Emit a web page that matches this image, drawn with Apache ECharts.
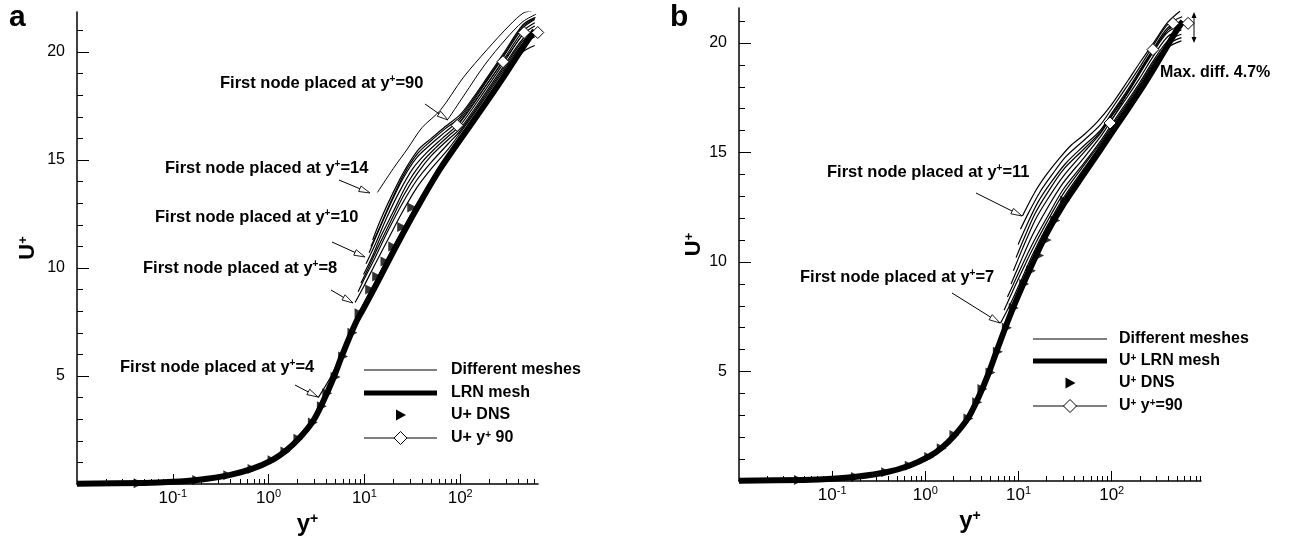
<!DOCTYPE html>
<html><head><meta charset="utf-8">
<script src="https://cdn.jsdelivr.net/npm/echarts@6/dist/echarts.min.js"></script>
<style>html,body{margin:0;padding:0;background:#fff}#c{width:1293px;height:542px}</style>
</head><body><div id="c"></div>
<script>
// ---------------- DATA ----------------
// DNS reference profile (shared by both panels): [y+, U+]
const dnsProfile = [[0.044,0.04],[0.18,0.18],[0.38,0.4],[0.68,0.7],[1.1,1.1],[1.5,1.5],[2.05,2.1],[2.9,2.85],[3.6,3.6],[4.1,4.2],[5.0,4.95],[6.0,5.9],[7.5,7.0],[8.9,7.9],[11.5,9.0],[13.6,9.6],[16.6,10.3],[20,11.0],[24.8,11.9],[31.6,12.8]];

// Panel a
const lrnA = [[0.01,0.01],[0.05,0.05],[0.1,0.1],[0.18,0.19],[0.38,0.4],[0.68,0.71],[1.1,1.12],[1.5,1.52],[2.05,2.08],[2.9,2.9],[3.74,3.85],[4.7,4.85],[5.9,6.0],[8,7.4],[10,8.2],[14.7,9.6],[22,11.1],[35.7,12.8],[60,14.5],[95,15.8],[190,17.7],[280,18.8],[450,20.2],[600,21.0]];
const meshA4  = [[3.3,4.0],[4.5,5.0],[6,6.2],[8,7.6],[10,8.4],[14.7,9.8],[22,11.3],[35.7,13.0],[60,14.65],[100,16.05],[190,17.8],[280,18.9],[450,20.0],[600,20.3]];
const meshA8  = [[8,8.4],[10,9.2],[13,10.2],[18,11.4],[25,12.6],[35,13.7],[50,14.6],[75,15.5],[100,16.25],[190,18.0],[280,19.1],[450,20.4],[600,20.7]];
const meshA8b = [[8.6,8.9],[10,9.5],[13,10.5],[18,11.8],[25,13.0],[35,14.05],[50,14.9],[75,15.75],[100,16.35],[190,18.1],[280,19.2],[450,20.5],[600,20.85]];
const meshA9  = [[9.2,9.3],[11,10.0],[14,11.0],[19,12.2],[26,13.4],[36,14.4],[50,15.2],[75,15.95],[100,16.45],[190,18.2],[280,19.3],[450,20.6],[600,21.0]];
const meshA9b = [[9.8,9.7],[12,10.5],[15,11.5],[20,12.6],[28,13.9],[40,14.9],[55,15.55],[75,16.1],[100,16.6],[190,18.35],[280,19.45],[450,20.8],[600,21.2]];
const meshA10 = [[10.4,10.2],[13,11.1],[17,12.3],[23,13.5],[32,14.6],[45,15.35],[65,16.0],[100,16.75],[190,18.5],[280,19.6],[450,20.95],[600,21.35]];
const meshA11 = [[11.2,10.7],[14,11.7],[18,12.8],[25,14.1],[35,15.1],[50,15.75],[70,16.3],[100,16.9],[190,18.65],[280,19.75],[450,21.1],[600,21.5]];
const meshA11b= [[11.7,11.0],[14.5,11.9],[19,13.1],[26,14.35],[36,15.3],[50,15.9],[70,16.45],[100,17.0],[190,18.72],[280,19.82],[450,21.17],[600,21.55]];
const meshA12 = [[12.2,11.3],[15,12.3],[20,13.5],[27,14.6],[37,15.5],[50,16.0],[70,16.55],[100,17.1],[140,17.95],[190,18.8],[280,19.9],[450,21.25],[610,21.6]];
const meshA14 = [[13.7,13.5],[20,14.6],[28,15.5],[40,16.5],[62,17.3],[107,18.8],[190,20.1],[330,21.25],[455,21.8],[560,21.9]];
const meshA90 = [[75,16.9],[110,18.0],[180,19.4],[300,20.6],[450,21.4],[620,21.75]];
const yp90A = [[93,16.6],[280,19.55],[465,20.9],[645,20.9]];

// Panel b
const lrnB = [[0.01,0.01],[0.05,0.05],[0.1,0.1],[0.18,0.19],[0.38,0.4],[0.68,0.71],[1.1,1.12],[1.5,1.52],[2.05,2.08],[2.9,2.9],[3.7,3.8],[4.7,4.85],[5.9,6.0],[8,7.5],[10,8.5],[14.7,10.1],[20,11.3],[30,12.6],[50,14.0],[75,15.1],[100,15.9],[150,17.0],[200,17.8],[280,18.8],[400,19.9],[500,20.6],[580,21.0]];
const meshB7  = [[6.4,7.2],[8,8.0],[10,8.9],[14,10.3],[20,11.6],[30,12.9],[50,14.25],[75,15.3],[100,16.1],[150,17.2],[200,18.0],[280,19.0],[400,19.8],[560,20.1]];
const meshB7b = [[7.0,7.8],[8.5,8.6],[10,9.25],[14,10.55],[20,11.8],[30,13.1],[50,14.4],[75,15.4],[100,16.2],[150,17.3],[200,18.1],[280,19.1],[400,19.95],[560,20.25]];
const meshB8  = [[7.6,8.4],[10,9.5],[14,10.8],[20,12.0],[30,13.3],[50,14.5],[75,15.5],[100,16.3],[150,17.4],[200,18.2],[280,19.2],[400,20.1],[560,20.4]];
const meshB8b = [[8.3,9.0],[10,9.8],[14,11.2],[20,12.4],[30,13.6],[50,14.75],[75,15.7],[100,16.5],[150,17.6],[200,18.4],[280,19.4],[400,20.3],[560,20.6]];
const meshB9  = [[8.8,9.6],[11,10.6],[15,11.9],[20,12.8],[30,13.9],[50,15.0],[75,15.85],[100,16.65],[150,17.75],[200,18.6],[280,19.6],[400,20.5],[560,20.8]];
const meshB9b = [[9.4,10.2],[11.5,11.1],[15,12.2],[20,13.1],[30,14.2],[50,15.15],[75,15.92],[100,16.72],[150,17.82],[200,18.68],[280,19.68],[400,20.6],[565,20.9]];
const meshB10 = [[9.9,10.8],[12,11.6],[16,12.7],[22,13.6],[32,14.5],[50,15.3],[75,16.0],[100,16.8],[150,17.9],[200,18.75],[280,19.75],[400,20.7],[570,21.0]];
const meshB10b= [[10.5,11.5],[13,12.3],[17,13.2],[23,14.0],[32,14.8],[50,15.55],[75,16.25],[100,17.0],[150,18.1],[200,18.9],[280,19.9],[400,20.85],[570,21.2]];
const meshB11 = [[11,12.1],[15,13.2],[20,14.0],[27,14.7],[36,15.3],[50,15.8],[70,16.4],[100,17.2],[150,18.3],[200,19.1],[280,20.0],[400,20.95],[540,21.45]];
const yp90B = [[96,16.35],[277,19.7],[455,20.9],[660,20.9]];

// Axis ticks
const xMajorTicks = [0.1, 1, 10, 100];
const xMinorTicksA = [0.02,0.03,0.04,0.05,0.06,0.07,0.08,0.09,0.2,0.3,0.4,0.5,0.6,0.7,0.8,0.9,2,3,4,5,6,7,8,9,20,30,40,50,60,70,80,90,200,300,400,500,600];
const xMinorTicksB = [0.02,0.03,0.04,0.05,0.06,0.07,0.08,0.09,0.2,0.3,0.4,0.5,0.6,0.7,0.8,0.9,2,3,4,5,6,7,8,9,20,30,40,50,60,70,80,90,200,300,400,500,600,700,800,900];
const yMajorTicks = [5, 10, 15, 20];
const yMinorTicks = [1,2,3,4,6,7,8,9,11,12,13,14,16,17,18,19,21];

// ---------------- LAYOUT / STYLE ----------------
const FONT = '"Liberation Sans", Arial, Helvetica, sans-serif';
const chart = echarts.init(document.getElementById('c'), null, {renderer: 'canvas'});

function powLabel(v) {
  const l = Math.log10(v), e = Math.round(l);
  if (Math.abs(l - e) > 1e-6 || e < -1) return '';
  return '{m|10}{s|' + e + '}';
}
function xAxes(grid, max, minor) {
  return [
    {gridIndex: grid, type: 'log', logBase: 10, min: 0.01, max: max, position: 'bottom',
     axisLine: {lineStyle: {color: '#000', width: 1.5}},
     axisTick: {inside: true, length: 10, customValues: xMajorTicks, lineStyle: {color: '#000', width: 1}},
     axisLabel: {customValues: xMajorTicks, formatter: powLabel, margin: 4, color: '#000', fontSize: 17, fontFamily: FONT,
                 rich: {m: {fontSize: 17, lineHeight: 21, fontFamily: FONT, color: '#000'},
                        s: {fontSize: 11, lineHeight: 15, fontFamily: FONT, color: '#000', verticalAlign: 'top'}}},
     splitLine: {show: false},
     name: 'y{s|+}', nameLocation: 'middle', nameGap: 21,
     nameTextStyle: {fontSize: 24, fontWeight: 'bold', fontFamily: FONT, color: '#000',
                     rich: {s: {fontSize: 14, fontWeight: 'bold', fontFamily: FONT, color: '#000', verticalAlign: 'top'}}}},
    {gridIndex: grid, type: 'log', logBase: 10, min: 0.01, max: max, position: 'bottom',
     axisLine: {show: false}, axisLabel: {show: false}, splitLine: {show: false},
     axisTick: {inside: true, length: 5, customValues: minor, lineStyle: {color: '#000', width: 1}}}
  ];
}
function yAxes(grid, max, gap) {
  return [
    {gridIndex: grid, type: 'value', min: 0, max: max, position: 'left',
     axisLine: {show: true, lineStyle: {color: '#000', width: 1.5}},
     axisTick: {show: true, inside: true, length: 12, customValues: yMajorTicks, lineStyle: {color: '#000', width: 1}},
     axisLabel: {customValues: yMajorTicks, margin: 12, color: '#000', fontSize: 16, fontFamily: FONT},
     splitLine: {show: false},
     name: 'U{s|+}', nameLocation: 'middle', nameRotate: 90, nameGap: gap,
     nameTextStyle: {fontSize: 22, fontWeight: 'bold', fontFamily: FONT, color: '#000',
                     rich: {s: {fontSize: 13, fontWeight: 'bold', fontFamily: FONT, color: '#000', verticalAlign: 'top'}}}},
    {gridIndex: grid, type: 'value', min: 0, max: max, position: 'left',
     axisLine: {show: false}, axisLabel: {show: false}, splitLine: {show: false},
     axisTick: {show: true, inside: true, length: 6, customValues: yMinorTicks, lineStyle: {color: '#000', width: 1}}}
  ];
}
function lineS(name, data, axis, width, z) {
  return {name: name, type: 'line', xAxisIndex: axis, yAxisIndex: axis, data: data, symbol: 'none', showSymbol: false,
          smooth: 0.3, lineStyle: {color: '#000', width: width, join: 'round', cap: 'butt'}, silent: true, z: z, animation: false};
}
function dnsS(axis) {
  return {name: 'DNS', type: 'scatter', xAxisIndex: axis, yAxisIndex: axis, data: dnsProfile, symbol: 'triangle',
          symbolRotate: -90, symbolSize: 10, itemStyle: {color: '#000'}, silent: true, z: 4, animation: false};
}
function diamondS(data, axis) {
  return {name: 'y90', type: 'line', xAxisIndex: axis, yAxisIndex: axis, data: data, symbol: 'diamond', symbolSize: 12,
          showSymbol: true, lineStyle: {color: '#000', width: 1}, itemStyle: {color: '#fff', borderColor: '#000', borderWidth: 1},
          silent: true, z: 6, animation: false};
}

const MW = 1.2;
const series = [
  lineS('LRN', lrnA, 0, 6, 2),
  lineS('mesh', meshA4, 0, MW, 3), lineS('mesh', meshA8, 0, MW, 3), lineS('mesh', meshA8b, 0, MW, 3),
  lineS('mesh', meshA9, 0, MW, 3), lineS('mesh', meshA9b, 0, MW, 3),
  lineS('mesh', meshA10, 0, MW, 3), lineS('mesh', meshA11, 0, MW, 3), lineS('mesh', meshA11b, 0, MW, 3),
  lineS('mesh', meshA12, 0, MW, 3), lineS('mesh', meshA14, 0, 1, 3), lineS('mesh', meshA90, 0, 1, 3),
  dnsS(0), diamondS(yp90A, 0),
  lineS('LRN', lrnB, 2, 6, 2),
  lineS('mesh', meshB7, 2, MW, 3), lineS('mesh', meshB7b, 2, MW, 3), lineS('mesh', meshB8, 2, MW, 3),
  lineS('mesh', meshB8b, 2, MW, 3), lineS('mesh', meshB9, 2, MW, 3), lineS('mesh', meshB9b, 2, MW, 3),
  lineS('mesh', meshB10, 2, MW, 3), lineS('mesh', meshB10b, 2, MW, 3), lineS('mesh', meshB11, 2, MW, 3),
  dnsS(2), diamondS(yp90B, 2)
];

// ---------------- annotations & legends (graphic) ----------------
const BOLD16 = 'bold 16px ' + FONT;
const supRich = {s: {font: 'bold 10px ' + FONT, fill: '#000', verticalAlign: 'top'}};
function txt(x, y, t, font) {
  return {type: 'text', x: x, y: y, z: 100, silent: true,
          style: {text: t, font: font || BOLD16, fill: '#000', align: 'left', verticalAlign: 'middle', rich: supRich}};
}
function arrow(x1, y1, x2, y2) {
  const a = Math.atan2(y2 - y1, x2 - x1), L = 11, W = 3;
  const bx = x2 - L * Math.cos(a), by = y2 - L * Math.sin(a);
  const px = -Math.sin(a) * W, py = Math.cos(a) * W;
  return [
    {type: 'line', z: 100, silent: true, shape: {x1: x1, y1: y1, x2: bx, y2: by}, style: {stroke: '#000', lineWidth: 1}},
    {type: 'polygon', z: 100, silent: true, shape: {points: [[x2, y2], [bx + px, by + py], [bx - px, by - py]]},
     style: {fill: '#fff', stroke: '#000', lineWidth: 0.9}}
  ];
}
function legend(x0, x1, tx, ys, labels) {
  const cx = (x0 + x1) / 2, out = [];
  out.push({type: 'line', z: 100, silent: true, shape: {x1: x0, y1: ys[0], x2: x1, y2: ys[0]}, style: {stroke: '#000', lineWidth: 1}});
  out.push({type: 'line', z: 100, silent: true, shape: {x1: x0, y1: ys[1], x2: x1, y2: ys[1]}, style: {stroke: '#000', lineWidth: 5}});
  out.push({type: 'polygon', z: 100, silent: true, shape: {points: [[cx - 4.5, ys[2] - 5.5], [cx + 5.5, ys[2]], [cx - 4.5, ys[2] + 5.5]]}, style: {fill: '#000'}});
  out.push({type: 'line', z: 100, silent: true, shape: {x1: x0, y1: ys[3], x2: x1, y2: ys[3]}, style: {stroke: '#000', lineWidth: 1}});
  out.push({type: 'polygon', z: 101, silent: true, shape: {points: [[cx, ys[3] - 6.5], [cx + 6.5, ys[3]], [cx, ys[3] + 6.5], [cx - 6.5, ys[3]]]}, style: {fill: '#fff', stroke: '#000', lineWidth: 1}});
  labels.forEach((l, i) => out.push(txt(tx, ys[i], l)));
  return out;
}

const notes = [
  {t: 'First node placed at y{s|+}=90', x: 220, y: 83,  a: [425, 104, 448, 120]},
  {t: 'First node placed at y{s|+}=14', x: 165, y: 168, a: [339, 180, 370, 193]},
  {t: 'First node placed at y{s|+}=10', x: 155, y: 217, a: [332, 242, 365, 257]},
  {t: 'First node placed at y{s|+}=8',  x: 143, y: 268, a: [331, 290, 353, 303]},
  {t: 'First node placed at y{s|+}=4',  x: 120, y: 367, a: [295, 385, 318, 397]},
  {t: 'First node placed at y{s|+}=11', x: 827, y: 172, a: [976, 193, 1022, 216]},
  {t: 'First node placed at y{s|+}=7',  x: 800, y: 277, a: [952, 293, 1000, 323]}
];
let graphics = [];
notes.forEach(n => { graphics.push(txt(n.x, n.y, n.t, 'bold 16.5px ' + FONT)); graphics = graphics.concat(arrow.apply(null, n.a)); });
graphics = graphics.concat(legend(364, 437, 451, [370, 393, 415, 438], ['Different meshes', 'LRN mesh', 'U+ DNS', 'U+ y{s|+} 90']));
graphics = graphics.concat(legend(1033, 1107, 1119, [339, 361, 383, 406], ['Different meshes', 'U{s|+} LRN mesh', 'U{s|+} DNS', 'U{s|+} y{s|+}=90']));
// Max diff marker
graphics.push({type: 'line', z: 100, silent: true, shape: {x1: 1194, y1: 15, x2: 1194, y2: 40}, style: {stroke: '#000', lineWidth: 1}});
graphics.push({type: 'polygon', z: 100, silent: true, shape: {points: [[1194, 12], [1191.5, 18], [1196.5, 18]]}, style: {fill: '#000'}});
graphics.push({type: 'polygon', z: 100, silent: true, shape: {points: [[1194, 43], [1191.5, 37], [1196.5, 37]]}, style: {fill: '#000'}});
graphics.push(txt(1160, 73, 'Max. diff. 4.7%'));
// panel letters
graphics.push(txt(9, 18, 'a', 'bold 30px ' + FONT));
graphics.push(txt(670, 18, 'b', 'bold 30px ' + FONT));

chart.setOption({
  animation: false,
  backgroundColor: '#fff',
  grid: [
    {left: 77, right: 755, top: 12, bottom: 58, containLabel: false},
    {left: 739, right: 92, top: 8, bottom: 61, containLabel: false}
  ],
  xAxis: xAxes(0, 649, xMinorTicksA).concat(xAxes(1, 908, xMinorTicksB)),
  yAxis: yAxes(0, 21.85, 38).concat(yAxes(1, 21.6, 32)),
  series: series,
  graphic: {elements: graphics}
});
</script></body></html>
